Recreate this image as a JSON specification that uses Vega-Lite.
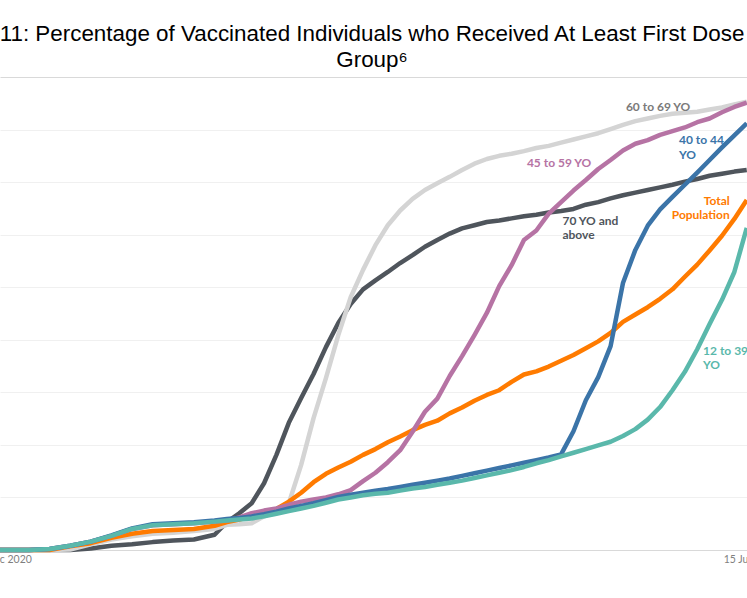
{
  "$schema": "https://vega.github.io/schema/vega-lite/v6.json",
  "width": 755,
  "height": 473,
  "autosize": {"type": "none"},
  "padding": {"left": 0, "top": 77, "right": -8, "bottom": 48},
  "background": "white",
  "title": {
    "text": ["11: Percentage of Vaccinated Individuals who Received At Least First Dose", "Group⁶"],
    "font": "Liberation Sans",
    "fontSize": 22.4,
    "fontWeight": "normal",
    "color": "#000000",
    "anchor": "start",
    "frame": "group",
    "dx": 372,
    "align": "center",
    "lineHeight": 26,
    "offset": 6
  },
  "datasets": {
    "series": [
      {"date":"2020-12-14","group":"70 YO and above","pct":0},
      {"date":"2020-12-21","group":"70 YO and above","pct":0},
      {"date":"2020-12-26","group":"70 YO and above","pct":0},
      {"date":"2020-12-31","group":"70 YO and above","pct":0},
      {"date":"2021-01-05","group":"70 YO and above","pct":0.3},
      {"date":"2021-01-10","group":"70 YO and above","pct":0.8},
      {"date":"2021-01-15","group":"70 YO and above","pct":1.1},
      {"date":"2021-01-20","group":"70 YO and above","pct":1.5},
      {"date":"2021-01-25","group":"70 YO and above","pct":1.8},
      {"date":"2021-01-30","group":"70 YO and above","pct":2.0},
      {"date":"2021-02-04","group":"70 YO and above","pct":2.9},
      {"date":"2021-02-07","group":"70 YO and above","pct":5.3},
      {"date":"2021-02-10","group":"70 YO and above","pct":7.0},
      {"date":"2021-02-13","group":"70 YO and above","pct":8.9},
      {"date":"2021-02-16","group":"70 YO and above","pct":12.7},
      {"date":"2021-02-19","group":"70 YO and above","pct":18.1},
      {"date":"2021-02-22","group":"70 YO and above","pct":24.2},
      {"date":"2021-02-25","group":"70 YO and above","pct":28.9},
      {"date":"2021-02-28","group":"70 YO and above","pct":33.5},
      {"date":"2021-03-03","group":"70 YO and above","pct":38.6},
      {"date":"2021-03-06","group":"70 YO and above","pct":43.2},
      {"date":"2021-03-09","group":"70 YO and above","pct":46.8},
      {"date":"2021-03-12","group":"70 YO and above","pct":49.6},
      {"date":"2021-03-15","group":"70 YO and above","pct":51.3},
      {"date":"2021-03-18","group":"70 YO and above","pct":52.9},
      {"date":"2021-03-21","group":"70 YO and above","pct":54.6},
      {"date":"2021-03-24","group":"70 YO and above","pct":56.1},
      {"date":"2021-03-27","group":"70 YO and above","pct":57.7},
      {"date":"2021-03-30","group":"70 YO and above","pct":59.0},
      {"date":"2021-04-02","group":"70 YO and above","pct":60.2},
      {"date":"2021-04-05","group":"70 YO and above","pct":61.2},
      {"date":"2021-04-08","group":"70 YO and above","pct":61.8},
      {"date":"2021-04-11","group":"70 YO and above","pct":62.4},
      {"date":"2021-04-14","group":"70 YO and above","pct":62.7},
      {"date":"2021-04-17","group":"70 YO and above","pct":63.1},
      {"date":"2021-04-20","group":"70 YO and above","pct":63.5},
      {"date":"2021-04-23","group":"70 YO and above","pct":63.8},
      {"date":"2021-04-26","group":"70 YO and above","pct":64.2},
      {"date":"2021-04-29","group":"70 YO and above","pct":64.5},
      {"date":"2021-05-02","group":"70 YO and above","pct":64.9},
      {"date":"2021-05-05","group":"70 YO and above","pct":65.7},
      {"date":"2021-05-08","group":"70 YO and above","pct":66.2},
      {"date":"2021-05-11","group":"70 YO and above","pct":66.9},
      {"date":"2021-05-14","group":"70 YO and above","pct":67.5},
      {"date":"2021-05-17","group":"70 YO and above","pct":68.0},
      {"date":"2021-05-20","group":"70 YO and above","pct":68.5},
      {"date":"2021-05-23","group":"70 YO and above","pct":69.0},
      {"date":"2021-05-26","group":"70 YO and above","pct":69.5},
      {"date":"2021-05-29","group":"70 YO and above","pct":70.1},
      {"date":"2021-06-01","group":"70 YO and above","pct":70.6},
      {"date":"2021-06-04","group":"70 YO and above","pct":71.2},
      {"date":"2021-06-07","group":"70 YO and above","pct":71.6},
      {"date":"2021-06-10","group":"70 YO and above","pct":72.0},
      {"date":"2021-06-13","group":"70 YO and above","pct":72.3},

      {"date":"2020-12-14","group":"60 to 69 YO","pct":0},
      {"date":"2020-12-21","group":"60 to 69 YO","pct":0},
      {"date":"2020-12-26","group":"60 to 69 YO","pct":0},
      {"date":"2020-12-31","group":"60 to 69 YO","pct":0.1},
      {"date":"2021-01-05","group":"60 to 69 YO","pct":1.1},
      {"date":"2021-01-10","group":"60 to 69 YO","pct":2.0},
      {"date":"2021-01-15","group":"60 to 69 YO","pct":2.6},
      {"date":"2021-01-20","group":"60 to 69 YO","pct":3.1},
      {"date":"2021-01-25","group":"60 to 69 YO","pct":3.3},
      {"date":"2021-01-30","group":"60 to 69 YO","pct":3.6},
      {"date":"2021-02-04","group":"60 to 69 YO","pct":4.0},
      {"date":"2021-02-07","group":"60 to 69 YO","pct":4.8},
      {"date":"2021-02-10","group":"60 to 69 YO","pct":4.9},
      {"date":"2021-02-13","group":"60 to 69 YO","pct":5.1},
      {"date":"2021-02-16","group":"60 to 69 YO","pct":6.4},
      {"date":"2021-02-19","group":"60 to 69 YO","pct":7.4},
      {"date":"2021-02-22","group":"60 to 69 YO","pct":8.9},
      {"date":"2021-02-25","group":"60 to 69 YO","pct":16.2},
      {"date":"2021-02-28","group":"60 to 69 YO","pct":25.1},
      {"date":"2021-03-03","group":"60 to 69 YO","pct":32.7},
      {"date":"2021-03-06","group":"60 to 69 YO","pct":40.9},
      {"date":"2021-03-09","group":"60 to 69 YO","pct":48.1},
      {"date":"2021-03-12","group":"60 to 69 YO","pct":53.3},
      {"date":"2021-03-15","group":"60 to 69 YO","pct":58.0},
      {"date":"2021-03-18","group":"60 to 69 YO","pct":61.8},
      {"date":"2021-03-21","group":"60 to 69 YO","pct":64.6},
      {"date":"2021-03-24","group":"60 to 69 YO","pct":66.8},
      {"date":"2021-03-27","group":"60 to 69 YO","pct":68.5},
      {"date":"2021-03-30","group":"60 to 69 YO","pct":69.8},
      {"date":"2021-04-02","group":"60 to 69 YO","pct":71.0},
      {"date":"2021-04-05","group":"60 to 69 YO","pct":72.3},
      {"date":"2021-04-08","group":"60 to 69 YO","pct":73.5},
      {"date":"2021-04-11","group":"60 to 69 YO","pct":74.4},
      {"date":"2021-04-14","group":"60 to 69 YO","pct":75.0},
      {"date":"2021-04-17","group":"60 to 69 YO","pct":75.4},
      {"date":"2021-04-20","group":"60 to 69 YO","pct":75.9},
      {"date":"2021-04-23","group":"60 to 69 YO","pct":76.5},
      {"date":"2021-04-26","group":"60 to 69 YO","pct":76.9},
      {"date":"2021-04-29","group":"60 to 69 YO","pct":77.5},
      {"date":"2021-05-02","group":"60 to 69 YO","pct":78.1},
      {"date":"2021-05-05","group":"60 to 69 YO","pct":78.7},
      {"date":"2021-05-08","group":"60 to 69 YO","pct":79.3},
      {"date":"2021-05-11","group":"60 to 69 YO","pct":80.1},
      {"date":"2021-05-14","group":"60 to 69 YO","pct":80.9},
      {"date":"2021-05-17","group":"60 to 69 YO","pct":81.6},
      {"date":"2021-05-20","group":"60 to 69 YO","pct":82.1},
      {"date":"2021-05-23","group":"60 to 69 YO","pct":82.6},
      {"date":"2021-05-26","group":"60 to 69 YO","pct":83.0},
      {"date":"2021-05-29","group":"60 to 69 YO","pct":83.2},
      {"date":"2021-06-01","group":"60 to 69 YO","pct":83.4},
      {"date":"2021-06-04","group":"60 to 69 YO","pct":83.8},
      {"date":"2021-06-07","group":"60 to 69 YO","pct":84.2},
      {"date":"2021-06-10","group":"60 to 69 YO","pct":84.8},
      {"date":"2021-06-13","group":"60 to 69 YO","pct":85.3},

      {"date":"2020-12-14","group":"Total Population","pct":0},
      {"date":"2020-12-21","group":"Total Population","pct":0},
      {"date":"2020-12-26","group":"Total Population","pct":0},
      {"date":"2020-12-31","group":"Total Population","pct":0.7},
      {"date":"2021-01-05","group":"Total Population","pct":1.3},
      {"date":"2021-01-10","group":"Total Population","pct":2.3},
      {"date":"2021-01-15","group":"Total Population","pct":3.1},
      {"date":"2021-01-20","group":"Total Population","pct":3.6},
      {"date":"2021-01-25","group":"Total Population","pct":3.8},
      {"date":"2021-01-30","group":"Total Population","pct":4.0},
      {"date":"2021-02-04","group":"Total Population","pct":4.6},
      {"date":"2021-02-07","group":"Total Population","pct":5.3},
      {"date":"2021-02-10","group":"Total Population","pct":5.8},
      {"date":"2021-02-13","group":"Total Population","pct":6.4},
      {"date":"2021-02-16","group":"Total Population","pct":7.0},
      {"date":"2021-02-19","group":"Total Population","pct":7.8},
      {"date":"2021-02-22","group":"Total Population","pct":9.2},
      {"date":"2021-02-25","group":"Total Population","pct":10.9},
      {"date":"2021-02-28","group":"Total Population","pct":12.9},
      {"date":"2021-03-03","group":"Total Population","pct":14.5},
      {"date":"2021-03-06","group":"Total Population","pct":15.7},
      {"date":"2021-03-09","group":"Total Population","pct":16.8},
      {"date":"2021-03-12","group":"Total Population","pct":18.1},
      {"date":"2021-03-15","group":"Total Population","pct":19.2},
      {"date":"2021-03-18","group":"Total Population","pct":20.5},
      {"date":"2021-03-21","group":"Total Population","pct":21.6},
      {"date":"2021-03-24","group":"Total Population","pct":22.8},
      {"date":"2021-03-27","group":"Total Population","pct":23.8},
      {"date":"2021-03-30","group":"Total Population","pct":24.6},
      {"date":"2021-04-02","group":"Total Population","pct":26.0},
      {"date":"2021-04-05","group":"Total Population","pct":27.1},
      {"date":"2021-04-08","group":"Total Population","pct":28.4},
      {"date":"2021-04-11","group":"Total Population","pct":29.5},
      {"date":"2021-04-14","group":"Total Population","pct":30.4},
      {"date":"2021-04-17","group":"Total Population","pct":32.0},
      {"date":"2021-04-20","group":"Total Population","pct":33.4},
      {"date":"2021-04-23","group":"Total Population","pct":34.0},
      {"date":"2021-04-26","group":"Total Population","pct":34.9},
      {"date":"2021-04-29","group":"Total Population","pct":36.0},
      {"date":"2021-05-02","group":"Total Population","pct":37.1},
      {"date":"2021-05-05","group":"Total Population","pct":38.4},
      {"date":"2021-05-08","group":"Total Population","pct":39.7},
      {"date":"2021-05-11","group":"Total Population","pct":41.3},
      {"date":"2021-05-14","group":"Total Population","pct":43.4},
      {"date":"2021-05-17","group":"Total Population","pct":44.8},
      {"date":"2021-05-20","group":"Total Population","pct":46.2},
      {"date":"2021-05-23","group":"Total Population","pct":47.8},
      {"date":"2021-05-26","group":"Total Population","pct":49.6},
      {"date":"2021-05-29","group":"Total Population","pct":52.0},
      {"date":"2021-06-01","group":"Total Population","pct":54.3},
      {"date":"2021-06-04","group":"Total Population","pct":57.0},
      {"date":"2021-06-07","group":"Total Population","pct":59.8},
      {"date":"2021-06-10","group":"Total Population","pct":63.0},
      {"date":"2021-06-13","group":"Total Population","pct":66.6},

      {"date":"2020-12-14","group":"45 to 59 YO","pct":0},
      {"date":"2020-12-21","group":"45 to 59 YO","pct":0},
      {"date":"2020-12-26","group":"45 to 59 YO","pct":0.2},
      {"date":"2020-12-31","group":"45 to 59 YO","pct":0.8},
      {"date":"2021-01-05","group":"45 to 59 YO","pct":1.6},
      {"date":"2021-01-10","group":"45 to 59 YO","pct":2.7},
      {"date":"2021-01-15","group":"45 to 59 YO","pct":4.0},
      {"date":"2021-01-20","group":"45 to 59 YO","pct":4.7},
      {"date":"2021-01-25","group":"45 to 59 YO","pct":4.9},
      {"date":"2021-01-30","group":"45 to 59 YO","pct":5.1},
      {"date":"2021-02-04","group":"45 to 59 YO","pct":5.4},
      {"date":"2021-02-07","group":"45 to 59 YO","pct":5.6},
      {"date":"2021-02-10","group":"45 to 59 YO","pct":6.2},
      {"date":"2021-02-13","group":"45 to 59 YO","pct":7.0},
      {"date":"2021-02-16","group":"45 to 59 YO","pct":7.5},
      {"date":"2021-02-19","group":"45 to 59 YO","pct":7.9},
      {"date":"2021-02-22","group":"45 to 59 YO","pct":8.6},
      {"date":"2021-02-25","group":"45 to 59 YO","pct":9.2},
      {"date":"2021-02-28","group":"45 to 59 YO","pct":9.6},
      {"date":"2021-03-03","group":"45 to 59 YO","pct":10.0},
      {"date":"2021-03-06","group":"45 to 59 YO","pct":10.6},
      {"date":"2021-03-09","group":"45 to 59 YO","pct":11.4},
      {"date":"2021-03-12","group":"45 to 59 YO","pct":13.1},
      {"date":"2021-03-15","group":"45 to 59 YO","pct":14.7},
      {"date":"2021-03-18","group":"45 to 59 YO","pct":16.7},
      {"date":"2021-03-21","group":"45 to 59 YO","pct":19.0},
      {"date":"2021-03-24","group":"45 to 59 YO","pct":22.5},
      {"date":"2021-03-27","group":"45 to 59 YO","pct":26.3},
      {"date":"2021-03-30","group":"45 to 59 YO","pct":28.8},
      {"date":"2021-04-02","group":"45 to 59 YO","pct":33.1},
      {"date":"2021-04-05","group":"45 to 59 YO","pct":36.9},
      {"date":"2021-04-08","group":"45 to 59 YO","pct":40.9},
      {"date":"2021-04-11","group":"45 to 59 YO","pct":45.1},
      {"date":"2021-04-14","group":"45 to 59 YO","pct":50.2},
      {"date":"2021-04-17","group":"45 to 59 YO","pct":54.2},
      {"date":"2021-04-20","group":"45 to 59 YO","pct":59.0},
      {"date":"2021-04-23","group":"45 to 59 YO","pct":60.8},
      {"date":"2021-04-26","group":"45 to 59 YO","pct":64.0},
      {"date":"2021-04-29","group":"45 to 59 YO","pct":66.2},
      {"date":"2021-05-02","group":"45 to 59 YO","pct":68.4},
      {"date":"2021-05-05","group":"45 to 59 YO","pct":70.4},
      {"date":"2021-05-08","group":"45 to 59 YO","pct":72.5},
      {"date":"2021-05-11","group":"45 to 59 YO","pct":74.2},
      {"date":"2021-05-14","group":"45 to 59 YO","pct":76.0},
      {"date":"2021-05-17","group":"45 to 59 YO","pct":77.3},
      {"date":"2021-05-20","group":"45 to 59 YO","pct":78.0},
      {"date":"2021-05-23","group":"45 to 59 YO","pct":79.0},
      {"date":"2021-05-26","group":"45 to 59 YO","pct":79.7},
      {"date":"2021-05-29","group":"45 to 59 YO","pct":80.4},
      {"date":"2021-06-01","group":"45 to 59 YO","pct":81.4},
      {"date":"2021-06-04","group":"45 to 59 YO","pct":82.1},
      {"date":"2021-06-07","group":"45 to 59 YO","pct":83.3},
      {"date":"2021-06-10","group":"45 to 59 YO","pct":84.3},
      {"date":"2021-06-13","group":"45 to 59 YO","pct":85.1},

      {"date":"2020-12-14","group":"40 to 44 YO","pct":0},
      {"date":"2020-12-21","group":"40 to 44 YO","pct":0},
      {"date":"2020-12-26","group":"40 to 44 YO","pct":0.2},
      {"date":"2020-12-31","group":"40 to 44 YO","pct":0.8},
      {"date":"2021-01-05","group":"40 to 44 YO","pct":1.6},
      {"date":"2021-01-10","group":"40 to 44 YO","pct":2.8},
      {"date":"2021-01-15","group":"40 to 44 YO","pct":4.1},
      {"date":"2021-01-20","group":"40 to 44 YO","pct":4.9},
      {"date":"2021-01-25","group":"40 to 44 YO","pct":5.1},
      {"date":"2021-01-30","group":"40 to 44 YO","pct":5.3},
      {"date":"2021-02-04","group":"40 to 44 YO","pct":5.6},
      {"date":"2021-02-07","group":"40 to 44 YO","pct":5.9},
      {"date":"2021-02-10","group":"40 to 44 YO","pct":6.1},
      {"date":"2021-02-13","group":"40 to 44 YO","pct":6.4},
      {"date":"2021-02-16","group":"40 to 44 YO","pct":6.8},
      {"date":"2021-02-19","group":"40 to 44 YO","pct":7.3},
      {"date":"2021-02-22","group":"40 to 44 YO","pct":7.9},
      {"date":"2021-02-25","group":"40 to 44 YO","pct":8.4},
      {"date":"2021-02-28","group":"40 to 44 YO","pct":8.9},
      {"date":"2021-03-03","group":"40 to 44 YO","pct":9.5},
      {"date":"2021-03-06","group":"40 to 44 YO","pct":10.1},
      {"date":"2021-03-09","group":"40 to 44 YO","pct":10.5},
      {"date":"2021-03-12","group":"40 to 44 YO","pct":10.9},
      {"date":"2021-03-15","group":"40 to 44 YO","pct":11.3},
      {"date":"2021-03-18","group":"40 to 44 YO","pct":11.6},
      {"date":"2021-03-21","group":"40 to 44 YO","pct":12.0},
      {"date":"2021-03-24","group":"40 to 44 YO","pct":12.4},
      {"date":"2021-03-27","group":"40 to 44 YO","pct":12.8},
      {"date":"2021-03-30","group":"40 to 44 YO","pct":13.2},
      {"date":"2021-04-02","group":"40 to 44 YO","pct":13.6},
      {"date":"2021-04-05","group":"40 to 44 YO","pct":14.1},
      {"date":"2021-04-08","group":"40 to 44 YO","pct":14.6},
      {"date":"2021-04-11","group":"40 to 44 YO","pct":15.1},
      {"date":"2021-04-14","group":"40 to 44 YO","pct":15.6},
      {"date":"2021-04-17","group":"40 to 44 YO","pct":16.1},
      {"date":"2021-04-20","group":"40 to 44 YO","pct":16.6},
      {"date":"2021-04-23","group":"40 to 44 YO","pct":17.1},
      {"date":"2021-04-26","group":"40 to 44 YO","pct":17.6},
      {"date":"2021-04-29","group":"40 to 44 YO","pct":18.2},
      {"date":"2021-05-02","group":"40 to 44 YO","pct":22.6},
      {"date":"2021-05-05","group":"40 to 44 YO","pct":28.5},
      {"date":"2021-05-08","group":"40 to 44 YO","pct":32.9},
      {"date":"2021-05-11","group":"40 to 44 YO","pct":38.8},
      {"date":"2021-05-14","group":"40 to 44 YO","pct":50.8},
      {"date":"2021-05-17","group":"40 to 44 YO","pct":57.1},
      {"date":"2021-05-20","group":"40 to 44 YO","pct":61.7},
      {"date":"2021-05-23","group":"40 to 44 YO","pct":64.8},
      {"date":"2021-05-26","group":"40 to 44 YO","pct":67.2},
      {"date":"2021-05-29","group":"40 to 44 YO","pct":69.5},
      {"date":"2021-06-01","group":"40 to 44 YO","pct":71.8},
      {"date":"2021-06-04","group":"40 to 44 YO","pct":74.2},
      {"date":"2021-06-07","group":"40 to 44 YO","pct":76.6},
      {"date":"2021-06-10","group":"40 to 44 YO","pct":78.9},
      {"date":"2021-06-13","group":"40 to 44 YO","pct":81.2},

      {"date":"2020-12-14","group":"12 to 39 YO","pct":0},
      {"date":"2020-12-21","group":"12 to 39 YO","pct":0},
      {"date":"2020-12-26","group":"12 to 39 YO","pct":0.2},
      {"date":"2020-12-31","group":"12 to 39 YO","pct":0.8},
      {"date":"2021-01-05","group":"12 to 39 YO","pct":1.6},
      {"date":"2021-01-10","group":"12 to 39 YO","pct":2.7},
      {"date":"2021-01-15","group":"12 to 39 YO","pct":4.0},
      {"date":"2021-01-20","group":"12 to 39 YO","pct":4.7},
      {"date":"2021-01-25","group":"12 to 39 YO","pct":4.9},
      {"date":"2021-01-30","group":"12 to 39 YO","pct":5.1},
      {"date":"2021-02-04","group":"12 to 39 YO","pct":5.4},
      {"date":"2021-02-07","group":"12 to 39 YO","pct":5.6},
      {"date":"2021-02-10","group":"12 to 39 YO","pct":5.8},
      {"date":"2021-02-13","group":"12 to 39 YO","pct":6.0},
      {"date":"2021-02-16","group":"12 to 39 YO","pct":6.4},
      {"date":"2021-02-19","group":"12 to 39 YO","pct":6.9},
      {"date":"2021-02-22","group":"12 to 39 YO","pct":7.4},
      {"date":"2021-02-25","group":"12 to 39 YO","pct":7.9},
      {"date":"2021-02-28","group":"12 to 39 YO","pct":8.4},
      {"date":"2021-03-03","group":"12 to 39 YO","pct":9.0},
      {"date":"2021-03-06","group":"12 to 39 YO","pct":9.6},
      {"date":"2021-03-09","group":"12 to 39 YO","pct":10.0},
      {"date":"2021-03-12","group":"12 to 39 YO","pct":10.4},
      {"date":"2021-03-15","group":"12 to 39 YO","pct":10.7},
      {"date":"2021-03-18","group":"12 to 39 YO","pct":10.9},
      {"date":"2021-03-21","group":"12 to 39 YO","pct":11.3},
      {"date":"2021-03-24","group":"12 to 39 YO","pct":11.7},
      {"date":"2021-03-27","group":"12 to 39 YO","pct":12.0},
      {"date":"2021-03-30","group":"12 to 39 YO","pct":12.4},
      {"date":"2021-04-02","group":"12 to 39 YO","pct":12.8},
      {"date":"2021-04-05","group":"12 to 39 YO","pct":13.2},
      {"date":"2021-04-08","group":"12 to 39 YO","pct":13.7},
      {"date":"2021-04-11","group":"12 to 39 YO","pct":14.2},
      {"date":"2021-04-14","group":"12 to 39 YO","pct":14.7},
      {"date":"2021-04-17","group":"12 to 39 YO","pct":15.2},
      {"date":"2021-04-20","group":"12 to 39 YO","pct":15.8},
      {"date":"2021-04-23","group":"12 to 39 YO","pct":16.5},
      {"date":"2021-04-26","group":"12 to 39 YO","pct":17.1},
      {"date":"2021-04-29","group":"12 to 39 YO","pct":17.8},
      {"date":"2021-05-02","group":"12 to 39 YO","pct":18.5},
      {"date":"2021-05-05","group":"12 to 39 YO","pct":19.2},
      {"date":"2021-05-08","group":"12 to 39 YO","pct":19.9},
      {"date":"2021-05-11","group":"12 to 39 YO","pct":20.6},
      {"date":"2021-05-14","group":"12 to 39 YO","pct":21.7},
      {"date":"2021-05-17","group":"12 to 39 YO","pct":23.0},
      {"date":"2021-05-20","group":"12 to 39 YO","pct":24.8},
      {"date":"2021-05-23","group":"12 to 39 YO","pct":27.2},
      {"date":"2021-05-26","group":"12 to 39 YO","pct":30.4},
      {"date":"2021-05-29","group":"12 to 39 YO","pct":33.9},
      {"date":"2021-06-01","group":"12 to 39 YO","pct":38.2},
      {"date":"2021-06-04","group":"12 to 39 YO","pct":43.0},
      {"date":"2021-06-07","group":"12 to 39 YO","pct":47.6},
      {"date":"2021-06-10","group":"12 to 39 YO","pct":52.9},
      {"date":"2021-06-13","group":"12 to 39 YO","pct":61.3}
    ],
    "labels": [
      {"date":"2021-05-14T17:00:00Z","pct":85.3,"label":"60 to 69 YO","group":"60 to 69 YO"},
      {"date":"2021-04-20T17:00:00Z","pct":74.6,"label":"45 to 59 YO","group":"45 to 59 YO"},
      {"date":"2021-05-27T14:00:00Z","pct":78.9,"label":"40 to 44\nYO","group":"40 to 44 YO"},
      {"date":"2021-04-29T08:00:00Z","pct":63.6,"label":"70 YO and\nabove","group":"70 YO and above"},
      {"date":"2021-06-08T21:00:00Z","pct":67.4,"label":"Total\nPopulation","group":"Total Population"},
      {"date":"2021-06-02T10:00:00Z","pct":38.9,"label":"12 to 39\nYO","group":"12 to 39 YO"}
    ]
  },
  "layer": [
    {
      "data": {"name": "series"},
      "encoding": {
        "x": {
          "field": "date",
          "type": "temporal",
          "scale": {"type": "utc", "domain": [{"year": 2020, "month": 12, "date": 14, "utc": true}, {"year": 2021, "month": 6, "date": 15, "utc": true}]},
          "axis": {
            "title": null,
            "values": [{"year": 2020, "month": 12, "date": 15, "utc": true}, {"year": 2021, "month": 6, "date": 15, "utc": true}],
            "format": "%-d %b %Y",
            "labelFlush": false,
            "labelOverlap": false,
            "labelBound": false,
            "labelOffset": -3,
            "ticks": false,
            "grid": false,
            "domainColor": "#d9d9d9",
            "domainWidth": 1,
            "labelColor": "#7f7f7f",
            "labelFont": "Lato",
            "labelFontSize": 10.5,
            "labelPadding": 4
          }
        },
        "y": {
          "field": "pct",
          "type": "quantitative",
          "scale": {"domain": [0, 90], "nice": false},
          "axis": {
            "title": null,
            "labels": false,
            "ticks": false,
            "domain": false,
            "values": [0, 10, 20, 30, 40, 50, 60, 70, 80, 90],
            "grid": true,
            "gridColor": {"condition": {"test": "datum.value === 90", "value": "#d9d9d9"}, "value": "#f0f0f0"},
            "gridWidth": 1
          }
        },
        "color": {
          "field": "group",
          "type": "nominal",
          "scale": {
            "domain": ["70 YO and above", "60 to 69 YO", "Total Population", "45 to 59 YO", "40 to 44 YO", "12 to 39 YO"],
            "range": ["#4f555c", "#d4d4d4", "#ff7b00", "#b673a4", "#3b74a8", "#5ab8ab"]
          },
          "legend": null
        }
      },
      "layer": [
        {"transform": [{"filter": "datum.group === '70 YO and above'"}], "mark": {"type": "line", "strokeWidth": 4.5, "strokeJoin": "round"}},
        {"transform": [{"filter": "datum.group === '60 to 69 YO'"}], "mark": {"type": "line", "strokeWidth": 4.5, "strokeJoin": "round"}},
        {"transform": [{"filter": "datum.group === 'Total Population'"}], "mark": {"type": "line", "strokeWidth": 4.5, "strokeJoin": "round"}},
        {"transform": [{"filter": "datum.group === '45 to 59 YO'"}], "mark": {"type": "line", "strokeWidth": 4.5, "strokeJoin": "round"}},
        {"transform": [{"filter": "datum.group === '40 to 44 YO'"}], "mark": {"type": "line", "strokeWidth": 4.5, "strokeJoin": "round"}},
        {"transform": [{"filter": "datum.group === '12 to 39 YO'"}], "mark": {"type": "line", "strokeWidth": 4.5, "strokeJoin": "round"}}
      ]
    },
    {
      "data": {"name": "labels"},
      "encoding": {
        "x": {
          "field": "date",
          "type": "temporal",
          "scale": {"type": "utc", "domain": [{"year": 2020, "month": 12, "date": 14, "utc": true}, {"year": 2021, "month": 6, "date": 15, "utc": true}]}
        },
        "y": {"field": "pct", "type": "quantitative", "scale": {"domain": [0, 90], "nice": false}},
        "color": {
          "field": "group",
          "type": "nominal",
          "scale": {
            "domain": ["70 YO and above", "60 to 69 YO", "Total Population", "45 to 59 YO", "40 to 44 YO", "12 to 39 YO"],
            "range": ["#4f555c", "#7a7a7a", "#ff7b00", "#b673a4", "#3b74a8", "#5ab8ab"]
          },
          "legend": null
        },
        "text": {"field": "label", "type": "nominal"}
      },
      "layer": [
        {
          "transform": [{"filter": "datum.group !== 'Total Population'"}],
          "mark": {"type": "text", "align": "left", "baseline": "top", "font": "Lato", "fontSize": 12, "fontWeight": "bold", "lineBreak": "\n", "lineHeight": 14.5}
        },
        {
          "transform": [{"filter": "datum.group === 'Total Population'"}],
          "mark": {"type": "text", "align": "right", "baseline": "top", "font": "Lato", "fontSize": 12, "fontWeight": "bold", "lineBreak": "\n", "lineHeight": 14.5}
        }
      ]
    }
  ],
  "resolve": {"scale": {"color": "independent"}},
  "config": {"view": {"stroke": null}}
}
